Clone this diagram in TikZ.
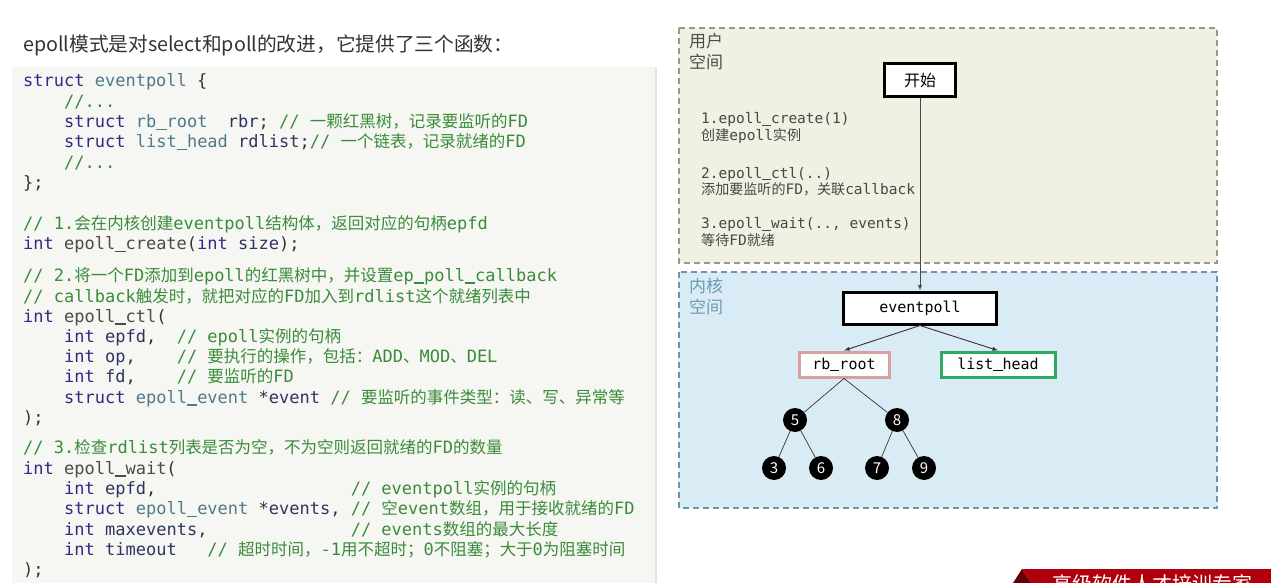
\documentclass[tikz,border=0pt]{standalone}
\usepackage{fontspec}
\usepackage{xcolor}
\usepackage{tikz}
\usetikzlibrary{arrows}
\usetikzlibrary{arrows.meta}
\usetikzlibrary{positioning}
\setmonofont{DejaVu Sans Mono}
\newfontfamily\cjk{Noto Sans CJK SC}
\newfontfamily\cjkc[Scale=0.97]{Noto Sans CJK SC}
\definecolor{kwcol}{HTML}{2F2B85}
\definecolor{tycol}{HTML}{4E7A8C}
\definecolor{fncol}{HTML}{4D4B42}
\definecolor{idcol}{HTML}{2E3560}
\definecolor{cmcol}{HTML}{3A8C3A}
\definecolor{plaincol}{HTML}{333333}
\definecolor{titlecol}{HTML}{333333}
\definecolor{codebg}{HTML}{F6F6F3}
\definecolor{codeedge}{HTML}{E2E2DE}
\definecolor{userbg}{HTML}{EFF1E2}
\definecolor{userline}{HTML}{9A9A82}
\definecolor{usercol}{HTML}{4D4D4D}
\definecolor{kernbg}{HTML}{D9ECF5}
\definecolor{kernline}{HTML}{6B95A8}
\definecolor{kerncol}{HTML}{6D9BB2}
\definecolor{notecol}{HTML}{474747}
\definecolor{rbcol}{HTML}{D9A0A0}
\definecolor{listcol}{HTML}{2EAA62}
\definecolor{arrowcol}{HTML}{333333}
\definecolor{bannerred}{HTML}{B0000B}
\definecolor{bannerdark}{HTML}{5E0004}
\newcommand{\kw}[1]{\textcolor{kwcol}{#1}}
\newcommand{\ty}[1]{\textcolor{tycol}{#1}}
\newcommand{\fn}[1]{\textcolor{fncol}{#1}}
\newcommand{\vr}[1]{\textcolor{idcol}{#1}}
\newcommand{\cm}[1]{\textcolor{cmcol}{#1}}
\newcommand{\zh}[1]{{\cjkc #1}}
\newcommand{\us}{\rule[-0.15em]{0.602em}{0.08em}}
\newlength{\cw}
\setlength{\cw}{10.235pt}
\newcommand{\sk}[1]{\hspace*{#1\cw}}
\tikzset{>=latex}
\tikzstyle{code} = [anchor=base west, inner sep=0, text=plaincol, font=\ttfamily\fontsize{17}{20}\selectfont]
\tikzstyle{note} = [anchor=base west, inner sep=0, text=notecol, font=\ttfamily\fontsize{14.5}{17}\selectfont]
\tikzstyle{area} = [anchor=base west, inner sep=0, font=\cjk\fontsize{17}{20}\selectfont]
\tikzstyle{box} = [draw, fill=white, line width=3pt, inner sep=0, font=\ttfamily\fontsize{15}{18}\selectfont]
\tikzstyle{rbnode} = [circle, fill=black, text=white, minimum size=24pt, inner sep=0, font=\cjk\fontsize{15}{18}\selectfont]
\tikzstyle{link} = [-latex, line width=0.9pt, draw=arrowcol]
\tikzstyle{edge} = [-, line width=0.7pt, draw=arrowcol]

\begin{document}
\begin{tikzpicture}[x=1pt, y=-1pt]
\useasboundingbox (0,0) rectangle (1271,583);
\node [anchor=base west, inner sep=0, text=titlecol, font=\cjk\fontsize{19.7}{23}\selectfont] (title) at (23,52) {epoll模式是对select和poll的改进，它提供了三个函数：};
\fill [codebg] (12,67) rectangle (655,583);
\draw [draw=codeedge, line width=1.5pt] (655.75,67) -- (655.75,583);
\node [code] (c1) at (23,87) {\kw{struct} \ty{eventpoll} \{};
\node [code] (c2) at (64,107.3) {\cm{//...}};
\node [code] (c3) at (64,127.6) {\kw{struct} \ty{rb\us root}\sk{2}\vr{rbr}; \cm{// \zh{一颗红黑树，记录要监听的}FD}};
\node [code] (c4) at (64,147.9) {\kw{struct} \ty{list\us head} \vr{rdlist};\cm{// \zh{一个链表，记录就绪的}FD}};
\node [code] (c5) at (64,168.2) {\cm{//...}};
\node [code] (c6) at (23,188.5) {\};};
\node [code] (c7) at (23,229.5) {\cm{// 1.\zh{会在内核创建}eventpoll\zh{结构体，返回对应的句柄}epfd}};
\node [code] (c8) at (23,249.8) {\kw{int} \fn{epoll\us create}(\kw{int} \vr{size});};
\node [code] (c9) at (23,281) {\cm{// 2.\zh{将一个}FD\zh{添加到}epoll\zh{的红黑树中，并设置}ep\us poll\us callback}};
\node [code] (c10) at (23,302) {\cm{// callback\zh{触发时，就把对应的}FD\zh{加入到}rdlist\zh{这个就绪列表中}}};
\node [code] (c11) at (23,322) {\kw{int} \fn{epoll\us ctl}(};
\node [code] (c12) at (64,342.3) {\kw{int} \vr{epfd},\sk{2}\cm{// epoll\zh{实例的句柄}}};
\node [code] (c13) at (64,362.5) {\kw{int} \vr{op},\sk{4}\cm{// \zh{要执行的操作，包括：}ADD\zh{、}MOD\zh{、}DEL}};
\node [code] (c14) at (64,382.8) {\kw{int} \vr{fd},\sk{4}\cm{// \zh{要监听的}FD}};
\node [code] (c15) at (64,403) {\kw{struct} \ty{epoll\us event} *\vr{event} \cm{// \zh{要监听的事件类型：读、写、异常等}}};
\node [code] (c16) at (23,423.3) {);};
\node [code] (c17) at (23,453.8) {\cm{// 3.\zh{检查}rdlist\zh{列表是否为空，不为空则返回就绪的}FD\zh{的数量}}};
\node [code] (c18) at (23,474) {\kw{int} \fn{epoll\us wait}(};
\node [code] (c19) at (64,494.4) {\kw{int} \vr{epfd},\sk{19}\cm{// eventpoll\zh{实例的句柄}}};
\node [code] (c20) at (64,514.7) {\kw{struct} \ty{epoll\us event} *\vr{events}, \cm{// \zh{空}event\zh{数组，用于接收就绪的}FD}};
\node [code] (c21) at (64,535) {\kw{int} \vr{maxevents},\sk{14}\cm{// events\zh{数组的最大长度}}};
\node [code] (c22) at (64,555.3) {\kw{int} \vr{timeout}\sk{3}\cm{// \zh{超时时间，}-1\zh{用不超时；}0\zh{不阻塞；大于}0\zh{为阻塞时间}}};
\node [code] (c23) at (23,575.6) {);};

\draw [dash pattern=on 6pt off 4pt, line width=1.2pt, draw=userline, fill=userbg] (679,28) rectangle (1217,263);
\draw [dash pattern=on 6pt off 4pt, line width=1.2pt, draw=kernline, fill=kernbg] (679,272) rectangle (1217,508);
\node [area, text=usercol] (u1) at (689,47.7) {用户};
\node [area, text=usercol] (u2) at (689,68.7) {空间};
\node [area, text=kerncol] (k1) at (689,292.7) {内核};
\node [area, text=kerncol] (k2) at (689,313.7) {空间};
\node [note] (s1) at (701,124) {1.epoll\us create(1)};
\node [note] (s1b) at (701,141) {\zh{创建}epoll\zh{实例}};
\node [note] (s2) at (701,178) {2.epoll\us ctl(..)};
\node [note] (s2b) at (701,194.5) {\zh{添加要监听的}FD\zh{，关联}callback};
\node [note] (s3) at (701,228.5) {3.epoll\us wait(.., events)};
\node [note] (s3b) at (701,245.5) {\zh{等待}FD\zh{就绪}};

\node [box, minimum width=71pt, minimum height=33pt, font=\cjk\fontsize{16}{18}\selectfont] (start) at (920,80.5) {开始};
\node [box, minimum width=153pt, minimum height=32pt] (eventpoll) at (920,308) {eventpoll};
\node [box, draw=rbcol, minimum width=90pt, minimum height=25pt] (rbroot) at (844,364.5) {rb\us root};
\node [box, draw=listcol, minimum width=114pt, minimum height=25pt] (listhead) at (998,364.5) {list\us head};
\node [rbnode] (n5) at (795,420) {5};
\node [rbnode] (n8) at (897,420) {8};
\node [rbnode] (n3) at (774,468) {3};
\node [rbnode] (n6) at (821,468) {6};
\node [rbnode] (n7) at (877,468) {7};
\node [rbnode] (n9) at (924,468) {9};
\draw [link, draw=notecol] (start) -- (eventpoll);
\draw [link] (eventpoll.south) -- (rbroot.north);
\draw [link] (eventpoll.south) -- (listhead.north);
\draw [edge] (rbroot.south) -- (n5);
\draw [edge] (rbroot.south) -- (n8);
\draw [edge] (n5) -- (n3);
\draw [edge] (n5) -- (n6);
\draw [edge] (n8) -- (n7);
\draw [edge] (n8) -- (n9);

\fill [bannerdark] (1013,583) -- (1022,569) -- (1031,583) -- cycle;
\fill [bannerred] (1022,569) -- (1271,569) -- (1271,583) -- (1031,583) -- cycle;
\begin{scope}
\clip (1022,569) rectangle (1271,583);
\node [anchor=north west, inner sep=0, text=white, font=\cjk\fontsize{20}{22}\selectfont] (banner) at (1052,574) {高级软件人才培训专家};
\end{scope}
\end{tikzpicture}
\end{document}
